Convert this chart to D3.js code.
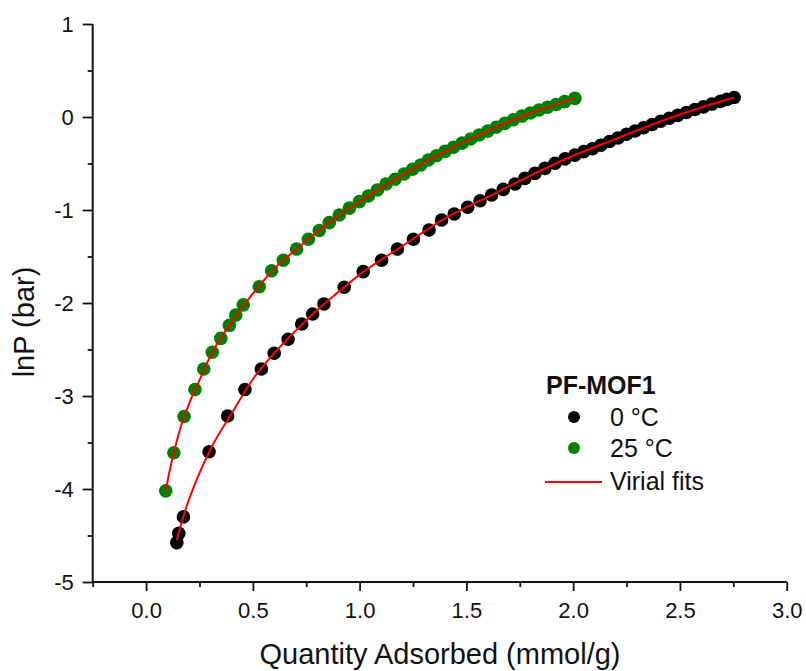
<!DOCTYPE html>
<html>
<head>
<meta charset="utf-8">
<script src="https://cdn.jsdelivr.net/npm/d3@7"></script>
<style>
  html, body { margin: 0; padding: 0; background: #fff; }
  svg { display: block; }
  text { font-family: "Liberation Sans", Arial, sans-serif; fill: #111; }
</style>
</head>
<body>
<svg id="chart" width="806" height="671"></svg>
<script>
// ---- data ----
const xTicks = [0.0, 0.5, 1.0, 1.5, 2.0, 2.5, 3.0];
const xMinorTicks = [-0.25, 0.25, 0.75, 1.25, 1.75, 2.25, 2.75];
const yTicks = [1, 0, -1, -2, -3, -4, -5];
const yMinorTicks = [0.5, -0.5, -1.5, -2.5, -3.5, -4.5];

const legendTitle = "PF-MOF1";
const seriesNames = ["0 °C", "25 °C", "Virial fits"];

// 0 °C
const n0 = [0.144, 0.153, 0.175, 0.295, 0.382, 0.463, 0.54, 0.60, 0.665, 0.729, 0.780, 0.833, 0.928, 1.017,
  1.103, 1.177, 1.252, 1.325, 1.384, 1.443, 1.506, 1.564, 1.618, 1.673, 1.728, 1.774, 1.821, 1.868, 1.915,
  1.962, 2.008, 2.05, 2.09, 2.13, 2.17, 2.21, 2.25, 2.29, 2.33, 2.37, 2.41, 2.45, 2.49, 2.53, 2.57, 2.61,
  2.65, 2.69, 2.72, 2.754];
const lnP0 = [-4.577, -4.477, -4.30, -3.60, -3.215, -2.93, -2.71, -2.54, -2.39, -2.226, -2.118, -2.01, -1.83, -1.663,
  -1.54, -1.42, -1.315, -1.215, -1.108, -1.043, -0.97, -0.90, -0.839, -0.778, -0.72, -0.66, -0.606, -0.552, -0.498,
  -0.45, -0.41, -0.372, -0.341, -0.303, -0.264, -0.225, -0.186, -0.150, -0.115, -0.080, -0.046, -0.014, 0.018, 0.049, 0.080, 0.109,
  0.139, 0.168, 0.189, 0.21];

// 25 °C
const n25 = [0.092, 0.130, 0.178, 0.229, 0.27, 0.31, 0.35, 0.39, 0.42, 0.455, 0.53, 0.588, 0.643, 0.705, 0.76,
  0.811, 0.858, 0.905, 0.952, 0.999, 1.041, 1.083, 1.124, 1.166, 1.208, 1.248, 1.286, 1.322, 1.36, 1.40, 1.44,
  1.48, 1.52, 1.56, 1.60, 1.64, 1.68, 1.72, 1.76, 1.80, 1.84, 1.88, 1.92, 1.96, 2.008];
const lnP25 = [-4.02, -3.61, -3.22, -2.93, -2.71, -2.53, -2.38, -2.24, -2.13, -2.02, -1.825, -1.653, -1.54, -1.42, -1.315,
  -1.22, -1.136, -1.054, -0.98, -0.91, -0.85, -0.785, -0.72, -0.67, -0.613, -0.562, -0.516, -0.462, -0.417, -0.37, -0.325,
  -0.281, -0.237, -0.194, -0.152, -0.11, -0.069, -0.029, 0.010, 0.043, 0.075, 0.105, 0.135, 0.165, 0.20];

// Virial fit curves
const fitN0 = [0.144, 0.16, 0.18, 0.20, 0.25, 0.30, 0.40, 0.50, 0.60, 0.70, 0.80, 0.90, 1.00, 1.20, 1.40, 1.60, 1.80, 2.00, 2.20, 2.40, 2.60, 2.754];
const fitLnP0 = [-4.55, -4.41, -4.255, -4.12, -3.83, -3.58, -3.19, -2.82, -2.54, -2.30, -2.077, -1.883, -1.695, -1.388, -1.09, -0.86, -0.63, -0.417, -0.235, -0.055, 0.102, 0.21];
const fitN25 = [0.092, 0.11, 0.13, 0.16, 0.20, 0.25, 0.30, 0.40, 0.50, 0.60, 0.70, 0.80, 0.90, 1.00, 1.20, 1.40, 1.60, 1.80, 2.008];
const fitLnP25 = [-4.02, -3.81, -3.61, -3.35, -3.09, -2.83, -2.575, -2.205, -1.90, -1.63, -1.43, -1.24, -1.063, -0.91, -0.624, -0.37, -0.152, 0.043, 0.20];

const colors = { c0: "#000000", c25: "#008000", fit: "#ff0000" };

// ---- drawing ----
const svg = d3.select("#chart");
const x = d3.scaleLinear().domain([-0.25, 3.0]).range([92.7, 786.7]);
const y = d3.scaleLinear().domain([-5, 1]).range([582, 24]);

const axisColor = "#111";

// X axis
const gx = svg.append("g").attr("transform", `translate(0,${y(-5)})`);
gx.call(d3.axisBottom(x).tickValues(xMinorTicks).tickSize(5).tickFormat(""));
gx.call(g => g.select(".domain").remove());
const gx2 = svg.append("g").attr("transform", `translate(0,${y(-5)})`);
gx2.call(d3.axisBottom(x).tickValues(xTicks).tickSize(9).tickSizeOuter(0).tickPadding(11).tickFormat(d3.format(".1f")));
gx2.select(".domain").attr("stroke", axisColor).attr("stroke-width", 2).attr("d", `M${x(-0.25)},0H${x(3.0)}`);
gx2.selectAll("text").attr("font-size", 22).style("font-family", '"Liberation Sans", Arial, sans-serif').attr("fill", "#111");

// Y axis
const gy = svg.append("g").attr("transform", `translate(${x(-0.25)},0)`);
gy.call(d3.axisLeft(y).tickValues(yMinorTicks).tickSize(5).tickFormat(""));
gy.call(g => g.select(".domain").remove());
const gy2 = svg.append("g").attr("transform", `translate(${x(-0.25)},0)`);
gy2.call(d3.axisLeft(y).tickValues(yTicks).tickSize(10).tickSizeOuter(0).tickPadding(9).tickFormat(d => String(d)));
gy2.select(".domain").attr("stroke", axisColor).attr("stroke-width", 2).attr("d", `M0,${y(1)}V${y(-5)}`);
gy2.selectAll("text").attr("font-size", 22).style("font-family", '"Liberation Sans", Arial, sans-serif').attr("fill", "#111");
svg.selectAll("g.tick line").attr("stroke", axisColor).attr("stroke-width", 1.8);

// Axis titles
svg.append("text")
  .attr("x", (258 + 622) / 2).attr("y", 664)
  .attr("text-anchor", "middle").attr("font-size", 29)
  .text("Quantity Adsorbed (mmol/g)");
svg.append("text")
  .attr("transform", "translate(34,322) rotate(-90)")
  .attr("text-anchor", "middle").attr("font-size", 29)
  .text("lnP (bar)");

// Data points
const pts25 = n25.map((v, i) => [v, lnP25[i]]);
const pts0 = n0.map((v, i) => [v, lnP0[i]]);
const r = 6.8;
svg.append("g").selectAll("circle").data(pts25).join("circle")
  .attr("cx", d => x(d[0])).attr("cy", d => y(d[1])).attr("r", r).attr("fill", colors.c25);
svg.append("g").selectAll("circle").data(pts0).join("circle")
  .attr("cx", d => x(d[0])).attr("cy", d => y(d[1])).attr("r", r).attr("fill", colors.c0);

// Fit lines
const line = d3.line().x(d => x(d[0])).y(d => y(d[1])).curve(d3.curveMonotoneX);
const fit0 = fitN0.map((v, i) => [v, fitLnP0[i]]);
const fit25 = fitN25.map((v, i) => [v, fitLnP25[i]]);
[fit25, fit0].forEach(f => {
  svg.append("path").datum(f).attr("d", line)
    .attr("fill", "none").attr("stroke", colors.fit).attr("stroke-width", 2);
});

// Legend
const lg = svg.append("g");
lg.append("text").attr("x", 546).attr("y", 394).attr("font-size", 25).attr("font-weight", "bold").text(legendTitle);
lg.append("circle").attr("cx", 574).attr("cy", 417).attr("r", 6).attr("fill", colors.c0);
lg.append("text").attr("x", 610).attr("y", 426).attr("font-size", 25).text(seriesNames[0]);
lg.append("circle").attr("cx", 574).attr("cy", 448).attr("r", 6).attr("fill", colors.c25);
lg.append("text").attr("x", 610).attr("y", 457).attr("font-size", 25).text(seriesNames[1]);
lg.append("line").attr("x1", 545).attr("x2", 602).attr("y1", 482).attr("y2", 482)
  .attr("stroke", colors.fit).attr("stroke-width", 2);
lg.append("text").attr("x", 610).attr("y", 490).attr("font-size", 25).text(seriesNames[2]);
</script>
</body>
</html>
